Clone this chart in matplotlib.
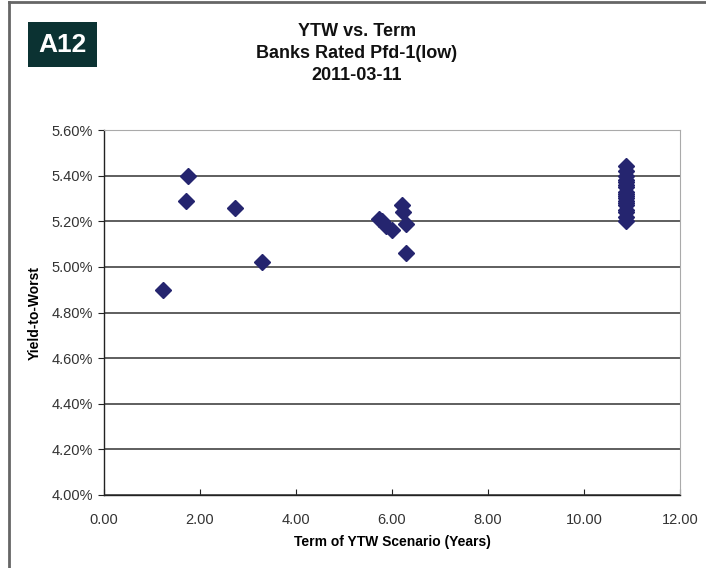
import matplotlib.pyplot as plt
from matplotlib.patches import Rectangle
from matplotlib.lines import Line2D
from matplotlib.ticker import FuncFormatter, MultipleLocator

plt.rcParams['font.family'] = ['Liberation Sans', 'DejaVu Sans']

# term (years) and yield-to-worst (%)
term = [1.22, 1.71, 1.74, 2.72, 3.30,
        5.72, 5.80, 5.88, 6.00,
        6.21, 6.22, 6.30, 6.29,
        10.88, 10.88, 10.88, 10.88, 10.88, 10.88, 10.88, 10.88, 10.88,
        10.88, 10.88, 10.88, 10.88, 10.88, 10.88, 10.88, 10.88, 10.88]
ytw = [4.90, 5.29, 5.40, 5.26, 5.02,
       5.21, 5.20, 5.18, 5.16,
       5.27, 5.24, 5.19, 5.06,
       5.20, 5.22, 5.24, 5.25, 5.27, 5.28, 5.29, 5.30, 5.31,
       5.32, 5.33, 5.35, 5.36, 5.37, 5.38, 5.40, 5.42, 5.44]

title_lines = ['YTW vs. Term', 'Banks Rated Pfd-1(low)', '2011-03-11']

fig = plt.figure(figsize=(7.06, 5.68), dpi=100)
ax = fig.add_axes([104/706, 1-495/568, 576/706, 365/568])

ax.plot(term, ytw, linestyle='none', marker='D', markersize=8.5,
        color='#25256f', markeredgecolor='#25256f')

ax.set_xlim(0, 12)
ax.set_ylim(4.0, 5.6)
ax.xaxis.set_major_locator(MultipleLocator(2))
ax.yaxis.set_major_locator(MultipleLocator(0.2))
ax.xaxis.set_major_formatter(FuncFormatter(lambda v, p: f'{v:.2f}'))
ax.yaxis.set_major_formatter(FuncFormatter(lambda v, p: f'{v:.2f}%'))
ax.grid(axis='y', color='#333333', linewidth=1.1)
ax.set_axisbelow(True)

for s in ['top', 'right']:
    ax.spines[s].set_color('#aaaaaa')
for s in ['left', 'bottom']:
    ax.spines[s].set_color('#222222')
    ax.spines[s].set_linewidth(1.0)
ax.tick_params(axis='y', direction='out', length=4, pad=4, labelsize=10.5,
               colors='#222222', labelcolor='#333333')
ax.tick_params(axis='x', direction='in', length=4, pad=13, labelsize=10.5,
               colors='#222222', labelcolor='#333333')
ax.set_xlabel('Term of YTW Scenario (Years)', fontsize=10, fontweight='bold',
              labelpad=6)
ax.set_ylabel('Yield-to-Worst', fontsize=10, fontweight='bold', labelpad=7)

for i, t in enumerate(title_lines):
    fig.text(357/706, 1-(31+22*i)/568, t, ha='center', va='center',
             fontsize=13, fontweight='bold', color='#111111')

# frame lines on the left and top
fig.add_artist(Line2D([9/706, 9/706], [0, 1-2/568], color='#666666',
                      linewidth=2, transform=fig.transFigure))
fig.add_artist(Line2D([9/706, 1], [1-2/568, 1-2/568], color='#666666',
                      linewidth=2, transform=fig.transFigure))

# badge
fig.add_artist(Rectangle((28/706, 1-67/568), 69/706, 45/568,
                         facecolor='#0b3232', edgecolor='none',
                         transform=fig.transFigure))
fig.text(62.5/706, 1-44.5/568, 'A12', ha='center', va='center',
         fontsize=19, fontweight='bold', color='white')

fig.savefig('out.png', dpi=100)
